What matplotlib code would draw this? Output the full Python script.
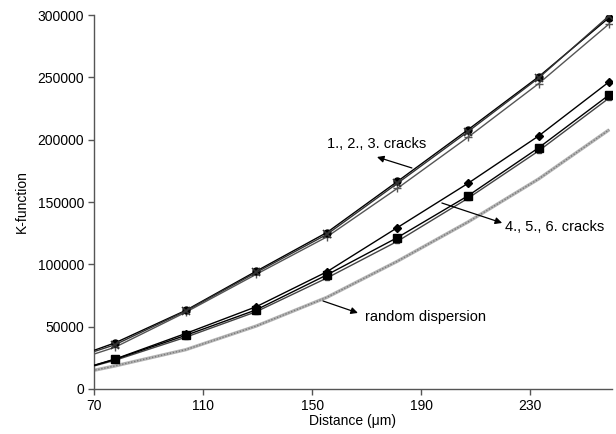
import matplotlib
matplotlib.use("Agg")
import matplotlib.pyplot as plt

plt.rcParams['font.family'] = ['Liberation Sans', 'DejaVu Sans']

# distances (um); first point lies left of the visible axis range
distance = [51.8, 77.7, 103.6, 129.5, 155.4, 181.3, 207.2, 233.1, 259.0]

crack1 = [16800, 37000, 63000, 94500, 125500, 166500, 208000, 250500, 298000]
crack2 = [17000, 35500, 62500, 93500, 124000, 165000, 206500, 249500, 299500]
crack3 = [15000, 33500, 61500, 92000, 122000, 161000, 202000, 245000, 293000]

crack4 = [7200, 24000, 44500, 66000, 94000, 129500, 165000, 203000, 246500]
crack5 = [7000, 23800, 43000, 63500, 91500, 121500, 155000, 193500, 236000]
crack6 = [7800, 23000, 41500, 62000, 89000, 118500, 153000, 191000, 233500]

random_disp = [6700, 18500, 31500, 50500, 73500, 102500, 134000, 168500, 208000]

x_ticks = [70, 110, 150, 190, 230]
y_ticks = [0, 50000, 100000, 150000, 200000, 250000, 300000]

fig = plt.figure(figsize=(6.16, 4.34), dpi=100)
ax = fig.add_axes([0.1526, 0.1037, 0.8409, 0.8617])

# random dispersion: grey textured line
ax.plot(distance, random_disp, color='#b4b4b4', lw=2.4, solid_capstyle='butt', zorder=2)
ax.plot(distance, random_disp, color='#7a7a7a', lw=1.0, ls=(0, (1, 1.2)), zorder=2)

mk = dict(markevery=list(range(1, len(distance))))
ax.plot(distance, crack1, color='black', lw=1.0, marker='o', ms=5, zorder=4, **mk)
ax.plot(distance, crack2, color='#333333', lw=1.0, marker='x', ms=6, mew=1.2, zorder=4, **mk)
ax.plot(distance, crack3, color='#555555', lw=1.0, marker='+', ms=6, mew=1.0, zorder=3, **mk)

ax.plot(distance, crack4, color='black', lw=1.0, marker='D', ms=4, zorder=4, **mk)
ax.plot(distance, crack5, color='black', lw=1.0, marker='s', ms=5.5, zorder=4, **mk)
ax.plot(distance, crack6, color='#444444', lw=1.0, marker='s', ms=3.5, zorder=3, **mk)

ax.set_xlim(70, 260)
ax.set_ylim(0, 300000)
ax.set_xticks(x_ticks)
ax.set_yticks(y_ticks)
ax.set_xticklabels([str(v) for v in x_ticks])
ax.set_yticklabels([str(v) for v in y_ticks])

for s in ['top', 'right']:
    ax.spines[s].set_visible(False)
for s in ['left', 'bottom']:
    ax.spines[s].set_color('#555555')
    ax.spines[s].set_linewidth(1.0)
ax.tick_params(axis='both', direction='out', length=4, width=1.0, color='#555555',
               labelsize=10, pad=3)

ax.set_xlabel('Distance (\u03bcm)', fontsize=10, labelpad=1)
ax.set_ylabel('K-function', fontsize=10, labelpad=6)

arrow = dict(arrowstyle='-|>', color='black', lw=0.9, mutation_scale=10,
             shrinkA=0, shrinkB=0)
ax.text(155.5, 196900, '1., 2., 3. cracks', fontsize=10.5, va='center', ha='left')
ax.annotate('', xy=(173.8, 186100), xytext=(186.6, 177300), arrowprops=arrow)

ax.text(220.8, 130000, '4., 5., 6. cracks', fontsize=10.5, va='center', ha='left')
ax.annotate('', xy=(219.7, 133200), xytext=(197.6, 149200), arrowprops=arrow)

ax.text(169.4, 57800, 'random dispersion', fontsize=10.5, va='center', ha='left')
ax.annotate('', xy=(166.8, 61000), xytext=(154.0, 70600), arrowprops=arrow)

fig.savefig('out.png', dpi=100)
